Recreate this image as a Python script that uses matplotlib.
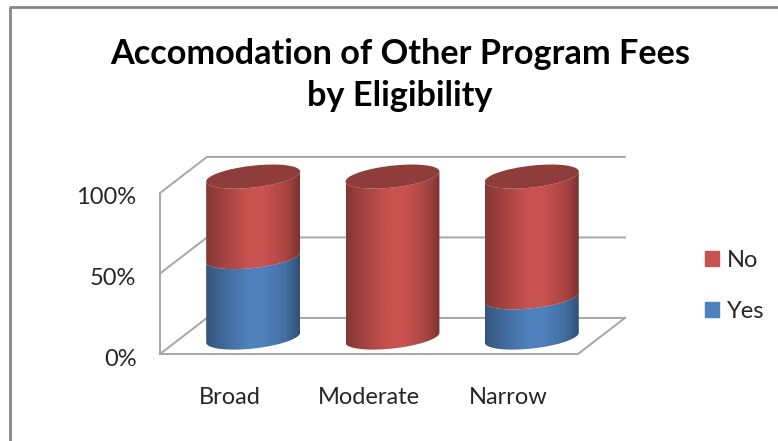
import numpy as np
import matplotlib
matplotlib.use("Agg")
import matplotlib.pyplot as plt
from matplotlib.lines import Line2D
from matplotlib.patches import Patch
from matplotlib.path import Path
from matplotlib.transforms import ScaledTranslation

categories = ["Broad", "Moderate", "Narrow"]
yes_vals = [50, 0, 25]
no_vals = [50, 100, 75]
ticks = [0, 50, 100]
tick_labels = ["0%", "50%", "100%"]

plt.rcParams['font.family'] = ['Lato', 'DejaVu Sans']

blue = np.array([79, 129, 189]) / 255
red = np.array([200, 82, 79]) / 255
cap_color = '#8F3D3B'
grid_color = '#A6A6A6'
text_color = '#262626'

W, H = 778, 441
fig = plt.figure(figsize=(W / 100, H / 100), dpi=100)
ax = fig.add_axes([160 / W, (H - 354) / H, 418 / W, 161 / H])
ax.set_xlim(-0.5, 2.5)
ax.set_ylim(0, 100)

# depth of the fake 3d box, in data units
dx = 0.337
dy = 22.4


def gridline(xs, ys):
    ax.plot(xs, ys, color=grid_color, lw=1.4, clip_on=False, zorder=1,
            solid_capstyle='projecting')


for t in ticks:
    gridline([-0.5, -0.5 + dx, 2.5 + dx], [t, t + dy, t + dy])
gridline([-0.5, -0.5], [0, 100])
gridline([-0.5, 2.5, 2.5 + dx], [0, 0, dy])

# cylinder shape
half_w = 0.337
tilt = 3.1
half_h = 6.8
lift = 10.2
theta = np.linspace(0, np.pi, 60)
stops = [0, 0.2, 0.45, 0.62, 0.85, 1]
shade = [0.66, 0.82, 1.0, 1.0, 0.85, 0.62]


def ellipse_front(cx, v):
    xs = cx + half_w * np.cos(theta)
    ys = v + lift + tilt * np.cos(theta) - half_h * np.sin(theta)
    return xs, ys


def draw_side(cx, v0, v1, color):
    x0, y0 = ellipse_front(cx, v0)
    x1, y1 = ellipse_front(cx, v1)
    verts = np.vstack([np.column_stack([x0, y0]), np.column_stack([x1, y1])[::-1]])
    pos = np.linspace(0, 1, 200)
    grad = np.interp(pos, stops, shade)[None, :, None] * color
    im = ax.imshow(grad, extent=(cx - half_w, cx + half_w, y0.min() - 1, y1.max() + 1),
                   aspect='auto', interpolation='bilinear', zorder=3)
    im.set_clip_path(Path(np.vstack([verts, verts[0]])), transform=ax.transData)
    im.set_clip_box(fig.bbox)


for i in range(len(categories)):
    cx = i + dx / 2
    if yes_vals[i] > 0:
        draw_side(cx, 0, yes_vals[i], blue)
    total = yes_vals[i] + no_vals[i]
    if no_vals[i] > 0:
        draw_side(cx, yes_vals[i], total, red)
    xs, ys = ellipse_front(cx, total)
    ys_back = total + lift + tilt * np.cos(theta) + half_h * np.sin(theta)
    ax.fill(np.r_[xs, xs[::-1]], np.r_[ys, ys_back[::-1]], color=cap_color,
            lw=0, clip_on=False, zorder=4)

ax.set_xlim(-0.5, 2.5)
ax.set_ylim(0, 100)
for s in ax.spines.values():
    s.set_visible(False)
ax.patch.set_alpha(0)
ax.set_xticks(range(len(categories)), categories)
ax.set_yticks(ticks, tick_labels)
ax.tick_params(axis='x', length=0, pad=24, labelsize=17, labelcolor=text_color)
ax.tick_params(axis='y', length=0, pad=17, labelsize=17, labelcolor=text_color)
for lab in ax.get_yticklabels():
    lab.set_transform(lab.get_transform() + ScaledTranslation(0, -3 / 100, fig.dpi_scale_trans))

handles = [Patch(color=red, label="No"), Patch(color=blue, label="Yes")]
fig.legend(handles=handles, frameon=False, loc='center left',
           bbox_to_anchor=(684 / W, (H - 286) / H), fontsize=17,
           handlelength=0.6, handleheight=0.6, handletextpad=0.3,
           labelspacing=1.25, labelcolor=text_color)

fig.text(400 / W, (H - 75) / H, "Accomodation of Other Program Fees\nby Eligibility",
         ha='center', va='center', fontsize=24.7, fontweight='bold',
         color='black', linespacing=1.35)

# outer chart border, cut off on the right and at the bottom
fig.add_artist(Line2D([10 / W, 10 / W, 1], [0, (H - 7) / H, (H - 7) / H],
                      color='#868686', lw=2))

fig.savefig("out.png", dpi=100)
